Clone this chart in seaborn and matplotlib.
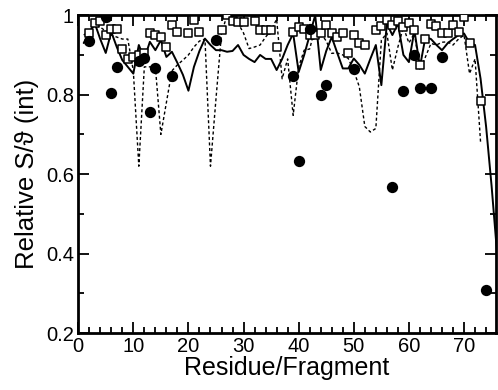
import numpy as np
import pandas as pd
import seaborn as sns
import matplotlib
matplotlib.use("Agg")
import matplotlib.pyplot as plt
from matplotlib.ticker import MultipleLocator, FuncFormatter

# solid curve, one value per residue 1..76
solid_x = np.arange(1, 77)
solid_y = [0.93, 0.955, 0.98, 0.94, 0.905, 0.958, 0.92, 0.887, 0.87, 0.853,
           0.925, 0.89, 0.933, 0.912, 0.937, 0.895, 0.908, 0.88, 0.85, 0.81,
           0.87, 0.91, 0.941, 0.925, 0.912, 0.912, 0.908, 0.91, 0.925, 0.90,
           0.89, 0.882, 0.90, 0.89, 0.89, 0.862, 0.89, 0.925, 0.954, 0.857,
           0.90, 0.95, 1.0, 0.862, 0.91, 0.945, 0.905, 0.866, 0.866, 0.891,
           0.875, 0.853, 0.89, 0.925, 0.824, 0.979, 0.95, 0.979, 0.90, 0.882,
           0.962, 0.87, 0.945, 0.94, 0.925, 0.912, 0.929, 0.94, 0.95, 0.954,
           0.93, 0.925, 0.84, 0.72, 0.57, 0.40]

# dashed curve, residues 1..73
dash_x = np.arange(1, 74)
dash_y = [0.95, 0.96, 0.975, 0.97, 0.96, 0.95, 0.945, 0.94, 0.94, 0.86,
          0.62, 0.87, 0.87, 0.87, 0.70, 0.78, 0.86, 0.875, 0.887, 0.90,
          0.92, 0.935, 0.94, 0.62, 0.79, 0.954, 1.0, 0.99, 0.98, 0.955,
          0.916, 0.92, 0.925, 0.945, 0.962, 0.99, 0.84, 0.89, 0.748, 0.87,
          0.912, 0.915, 0.97, 0.955, 0.935, 0.904, 0.905, 0.90, 0.891, 0.86,
          0.82, 0.72, 0.706, 0.715, 0.937, 0.955, 0.862, 0.92, 0.97, 0.93,
          0.955, 0.862, 0.895, 0.929, 0.925, 0.932, 0.933, 0.925, 0.94, 0.95,
          0.853, 0.89, 0.68]

# open squares
square_x = [2, 3, 4, 5, 6, 7, 8, 9, 10, 11, 12, 13, 14, 15, 16, 17, 18, 20, 21, 22,
            26, 27, 28, 29, 30, 32, 33, 34, 35, 36, 39, 40, 41, 42, 43, 44, 45, 46,
            47, 48, 49, 50, 51, 52, 54, 55, 56, 57, 58, 59, 60, 61, 62, 63, 64, 65,
            66, 67, 68, 69, 70, 71, 73]
square_y = [0.955, 0.98, 0.985, 0.95, 0.965, 0.965, 0.915, 0.89, 0.895, 0.90, 0.905,
            0.955, 0.95, 0.945, 0.92, 0.975, 0.958, 0.954, 0.987, 0.958,
            0.964, 1.0, 0.986, 0.983, 0.983, 0.986, 0.962, 0.962, 0.964, 0.921,
            0.958, 0.97, 0.966, 0.95, 0.95, 0.954, 0.975, 0.955,
            0.944, 0.955, 0.905, 0.951, 0.929, 0.926, 0.964, 0.972, 0.989, 0.975,
            0.986, 0.97, 0.981, 0.964, 0.874, 0.941, 0.977, 0.972,
            0.955, 0.955, 0.975, 0.958, 0.996, 0.929, 0.784]

# filled circles
circle_x = [2, 5, 6, 7, 11, 12, 13, 14, 17, 25, 39, 40, 42, 44, 45, 50, 57, 59,
            61, 62, 64, 66, 74]
circle_y = [0.935, 0.995, 0.805, 0.87, 0.885, 0.893, 0.757, 0.868, 0.848, 0.937,
            0.847, 0.633, 0.965, 0.80, 0.824, 0.864, 0.568, 0.81, 0.90, 0.818,
            0.818, 0.895, 0.308]

sns.set_style("ticks", {"axes.edgecolor": "black", "text.color": "black",
                        "axes.labelcolor": "black", "xtick.color": "black",
                        "ytick.color": "black"})
plt.rcParams['font.family'] = ['Liberation Sans', 'DejaVu Sans']

fig = plt.figure(figsize=(4.98, 3.9), dpi=100)
ax = fig.add_axes([0.157, 0.146, 0.839, 0.815])

sns.lineplot(x=solid_x, y=solid_y, color="black", linewidth=1.4, ax=ax)
sns.lineplot(x=dash_x, y=dash_y, color="black", linewidth=1.0, linestyle=(0, (2.2, 1.8)), ax=ax)
sns.scatterplot(x=square_x, y=square_y, marker="s", s=38, facecolor="white",
                edgecolor="black", linewidth=1.1, ax=ax, zorder=3)
sns.scatterplot(x=circle_x, y=circle_y, marker="o", s=66, color="black",
                edgecolor="black", linewidth=0, ax=ax, zorder=4)

ax.set_xlim(0, 75.8)
ax.set_ylim(0.2, 1.0)
ax.xaxis.set_major_locator(MultipleLocator(10))
ax.xaxis.set_minor_locator(MultipleLocator(2))
ax.yaxis.set_major_locator(MultipleLocator(0.2))
ax.yaxis.set_minor_locator(MultipleLocator(0.1))
ax.yaxis.set_major_formatter(FuncFormatter(lambda v, p: "1" if abs(v - 1) < 1e-9 else f"{v:.1f}"))
ax.tick_params(which="both", direction="in", top=True, right=True, labelsize=14.5,
               pad=3, width=1.3, colors="black")
ax.tick_params(which="major", length=8)
ax.tick_params(which="minor", length=4)
for sp in ax.spines.values():
    sp.set_linewidth(2.0)
    sp.set_color("black")

ax.set_xlabel("Residue/Fragment", fontsize=18, labelpad=0, color="black")
ax.set_ylabel("Relative S/\u03d1 (int)", fontsize=18.5, labelpad=5, color="black")

fig.savefig("out.png", dpi=100)
